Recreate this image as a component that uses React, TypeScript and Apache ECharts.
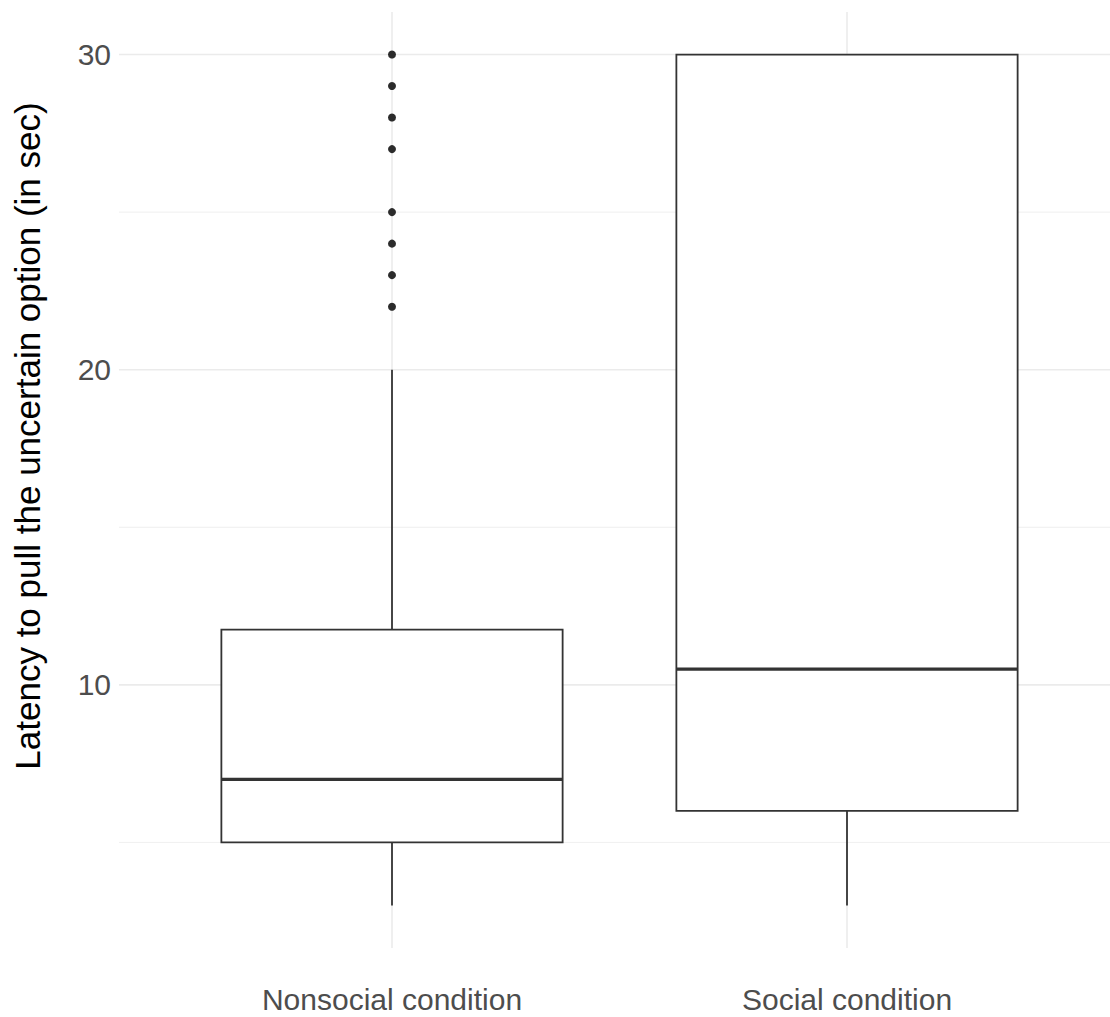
import React, { useEffect, useRef } from "react";
import * as echarts from "echarts";

const categories = ["Nonsocial condition", "Social condition"];
// [lowerWhisker, Q1, median, Q3, upperWhisker]
const boxStats = [
  [3, 5, 7, 11.75, 20],
  [3, 6, 10.5, 30, 30],
];
const outliersNonsocial = [22, 23, 24, 25, 27, 28, 29, 30];
const majorY = [10, 20, 30];
const minorY = [5, 15, 25];
const yTitle = "Latency to pull the uncertain option (in sec)";

const FONT = "'Liberation Sans', Arial, Helvetica, sans-serif";

export default function App() {
  const ref = useRef<HTMLDivElement>(null);
  useEffect(() => {
    if (!ref.current) return;
    const chart = echarts.init(ref.current, null, { renderer: "svg" });
    const xMin = 0.4;
    const xMax = 0.4 + (1110 - 119) / 455;
    const yMin = 1.65;
    const yMax = 31.35;

    const gridData: any[] = [];
    majorY.forEach((v) => gridData.push(["h", v, 1.6]));
    minorY.forEach((v) => gridData.push(["h", v, 0.8]));
    categories.forEach((_, i) => gridData.push(["v", i + 1, 1.6]));

    const option: any = {
      animation: false,
      backgroundColor: "#ffffff",
      grid: { left: 119, right: 0, top: 12, bottom: 69, containLabel: false },
      xAxis: {
        type: "value",
        min: xMin,
        max: xMax,
        axisLine: { show: false },
        axisTick: { show: false },
        splitLine: { show: false },
        axisLabel: {
          customValues: categories.map((_, i) => i + 1),
          formatter: (v: number) => categories[Math.round(v) - 1] ?? "",
          color: "#4D4D4D",
          fontSize: 30,
          fontFamily: FONT,
          margin: 36,
        },
      },
      yAxis: {
        type: "value",
        min: yMin,
        max: yMax,
        axisLine: { show: false },
        axisTick: { show: false },
        splitLine: { show: false },
        axisLabel: {
          customValues: majorY,
          color: "#4D4D4D",
          fontSize: 30,
          fontFamily: FONT,
          margin: 8,
        },
      },
      graphic: [
        {
          type: "text",
          x: 27,
          y: 436,
          rotation: Math.PI / 2,
          style: {
            text: yTitle,
            fontSize: 35,
            fontFamily: FONT,
            fill: "#000000",
            align: "center",
            verticalAlign: "middle",
          },
        },
      ],
      series: [
        {
          type: "custom",
          silent: true,
          z: 0,
          data: gridData,
          renderItem: (params: any, api: any) => {
            const kind = gridData[params.dataIndex][0];
            const v = api.value(1);
            const w = api.value(2);
            const cs = params.coordSys;
            if (kind === "h") {
              const y = api.coord([xMin, v])[1];
              return {
                type: "line",
                shape: { x1: cs.x, y1: y, x2: cs.x + cs.width, y2: y },
                style: { stroke: "#EBEBEB", lineWidth: w },
              };
            }
            const x = api.coord([v, yMin])[0];
            return {
              type: "line",
              shape: { x1: x, y1: cs.y, x2: x, y2: cs.y + cs.height },
              style: { stroke: "#EBEBEB", lineWidth: w },
            };
          },
          encode: { x: 1, y: 1 },
        },
        {
          type: "custom",
          z: 2,
          data: boxStats.map((s, i) => [i + 1, ...s]),
          encode: { x: 0, y: [1, 2, 3, 4, 5] },
          renderItem: (params: any, api: any) => {
            const x = api.value(0);
            const lo = api.value(1);
            const q1 = api.value(2);
            const med = api.value(3);
            const q3 = api.value(4);
            const hi = api.value(5);
            const half = 0.375;
            const pL = api.coord([x - half, q3]);
            const pR = api.coord([x + half, q1]);
            const cx = api.coord([x, lo])[0];
            const yLo = api.coord([x, lo])[1];
            const yHi = api.coord([x, hi])[1];
            const yQ1 = pR[1];
            const yQ3 = pL[1];
            const yMed = api.coord([x, med])[1];
            const stroke = "#333333";
            return {
              type: "group",
              children: [
                {
                  type: "line",
                  shape: { x1: cx, y1: yQ1, x2: cx, y2: yLo },
                  style: { stroke, lineWidth: 1.8 },
                },
                {
                  type: "line",
                  shape: { x1: cx, y1: yQ3, x2: cx, y2: yHi },
                  style: { stroke, lineWidth: 1.8 },
                },
                {
                  type: "rect",
                  shape: { x: pL[0], y: yQ3, width: pR[0] - pL[0], height: yQ1 - yQ3 },
                  style: { fill: "#ffffff", stroke, lineWidth: 1.8 },
                },
                {
                  type: "line",
                  shape: { x1: pL[0], y1: yMed, x2: pR[0], y2: yMed },
                  style: { stroke, lineWidth: 3.4 },
                },
              ],
            };
          },
        },
        {
          type: "scatter",
          z: 3,
          symbol: "circle",
          symbolSize: 8,
          itemStyle: { color: "#2b2b2b", opacity: 1 },
          data: outliersNonsocial.map((v) => [1, v]),
        },
      ],
    };
    chart.setOption(option);
    return () => chart.dispose();
  }, []);
  return (
    <div
      ref={ref}
      style={{ position: "fixed", left: 0, top: 0, width: 1110, height: 1017 }}
    />
  );
}
